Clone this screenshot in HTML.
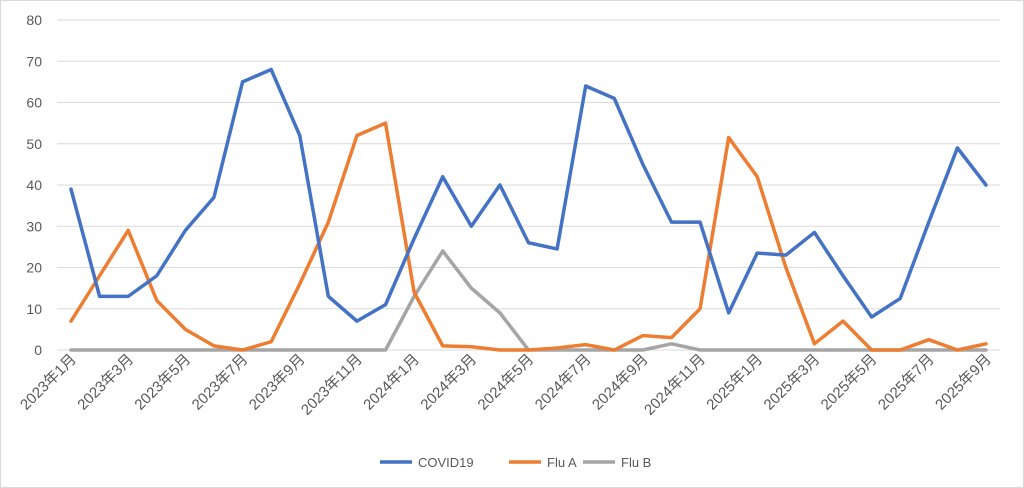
<!DOCTYPE html>
<html><head><meta charset="utf-8"><style>body{margin:0;background:#fff}svg{display:block}</style></head><body>
<svg width="1024" height="488" viewBox="0 0 1024 488" xmlns="http://www.w3.org/2000/svg" font-family="Liberation Sans, Noto Sans CJK JP, sans-serif">
<rect x="0.5" y="0.5" width="1023" height="487" fill="#fff" stroke="#d9d9d9"/>
<g id="grid" stroke="#d9d9d9" stroke-width="1"></g>
<g id="ylab" fill="#595959" font-size="14" text-anchor="end"></g>
<g id="xlab" fill="#595959" font-size="15" text-anchor="end"></g>
<g id="lines" fill="none" stroke-width="3.5" stroke-linejoin="round" stroke-linecap="round"></g>
<g font-size="13" fill="#595959">
<line x1="380" y1="462" x2="412" y2="462" stroke="#4472c4" stroke-width="3.5"/><text x="418" y="467">COVID19</text>
<line x1="509" y1="462" x2="541" y2="462" stroke="#ed7d31" stroke-width="3.5"/><text x="547" y="467">Flu A</text>
<line x1="583" y1="462" x2="615" y2="462" stroke="#a5a5a5" stroke-width="3.5"/><text x="621" y="467">Flu B</text>
</g>
<script>
var ns="http://www.w3.org/2000/svg";
function el(t,a,p,txt){var e=document.createElementNS(ns,t);for(var k in a)e.setAttribute(k,a[k]);if(txt!=null)e.textContent=txt;document.getElementById(p).appendChild(e);}
function Y(v){return 350-v*4.125;}function X(i){return 71+i*(915/32);}
for(var v=0;v<=80;v+=10){el('line',{x1:57,x2:1000,y1:Y(v),y2:Y(v)},'grid');el('text',{x:42,y:Y(v)+5},'ylab',v);}
for(var i=0;i<33;i+=2){var y=2023+Math.floor(i/12),m=i%12+1;var x=X(i)+6,yy=360;el('text',{x:x,y:yy,transform:'rotate(-45 '+x+' '+yy+')'},'xlab',y+'年'+m+'月');}
var c=[39,13,13,18,29,37,65,68,52,13,7,11,27,42,30,40,26,24.5,64,61,45,31,31,9,23.5,23,28.5,18,8,12.5,31,49,40];
var a=[7,18,29,12,5,1,0,2,16,31,52,55,14,1,0.8,0,0,0.5,1.3,0,3.5,3,10,51.5,42,20,1.5,7,0,0,2.5,0,1.5];
var b=[0,0,0,0,0,0,0,0,0,0,0,0,13,24,15,9,0,0,0,0,0,1.5,0,0,0,0,0,0,0,0,0,0,0];
function pl(d,col){el('polyline',{points:d.map(function(v,i){return X(i)+','+Y(v)}).join(' '),stroke:col},'lines');}
pl(b,'#a5a5a5');pl(a,'#ed7d31');pl(c,'#4472c4');
</script>
</svg>
</body></html>
